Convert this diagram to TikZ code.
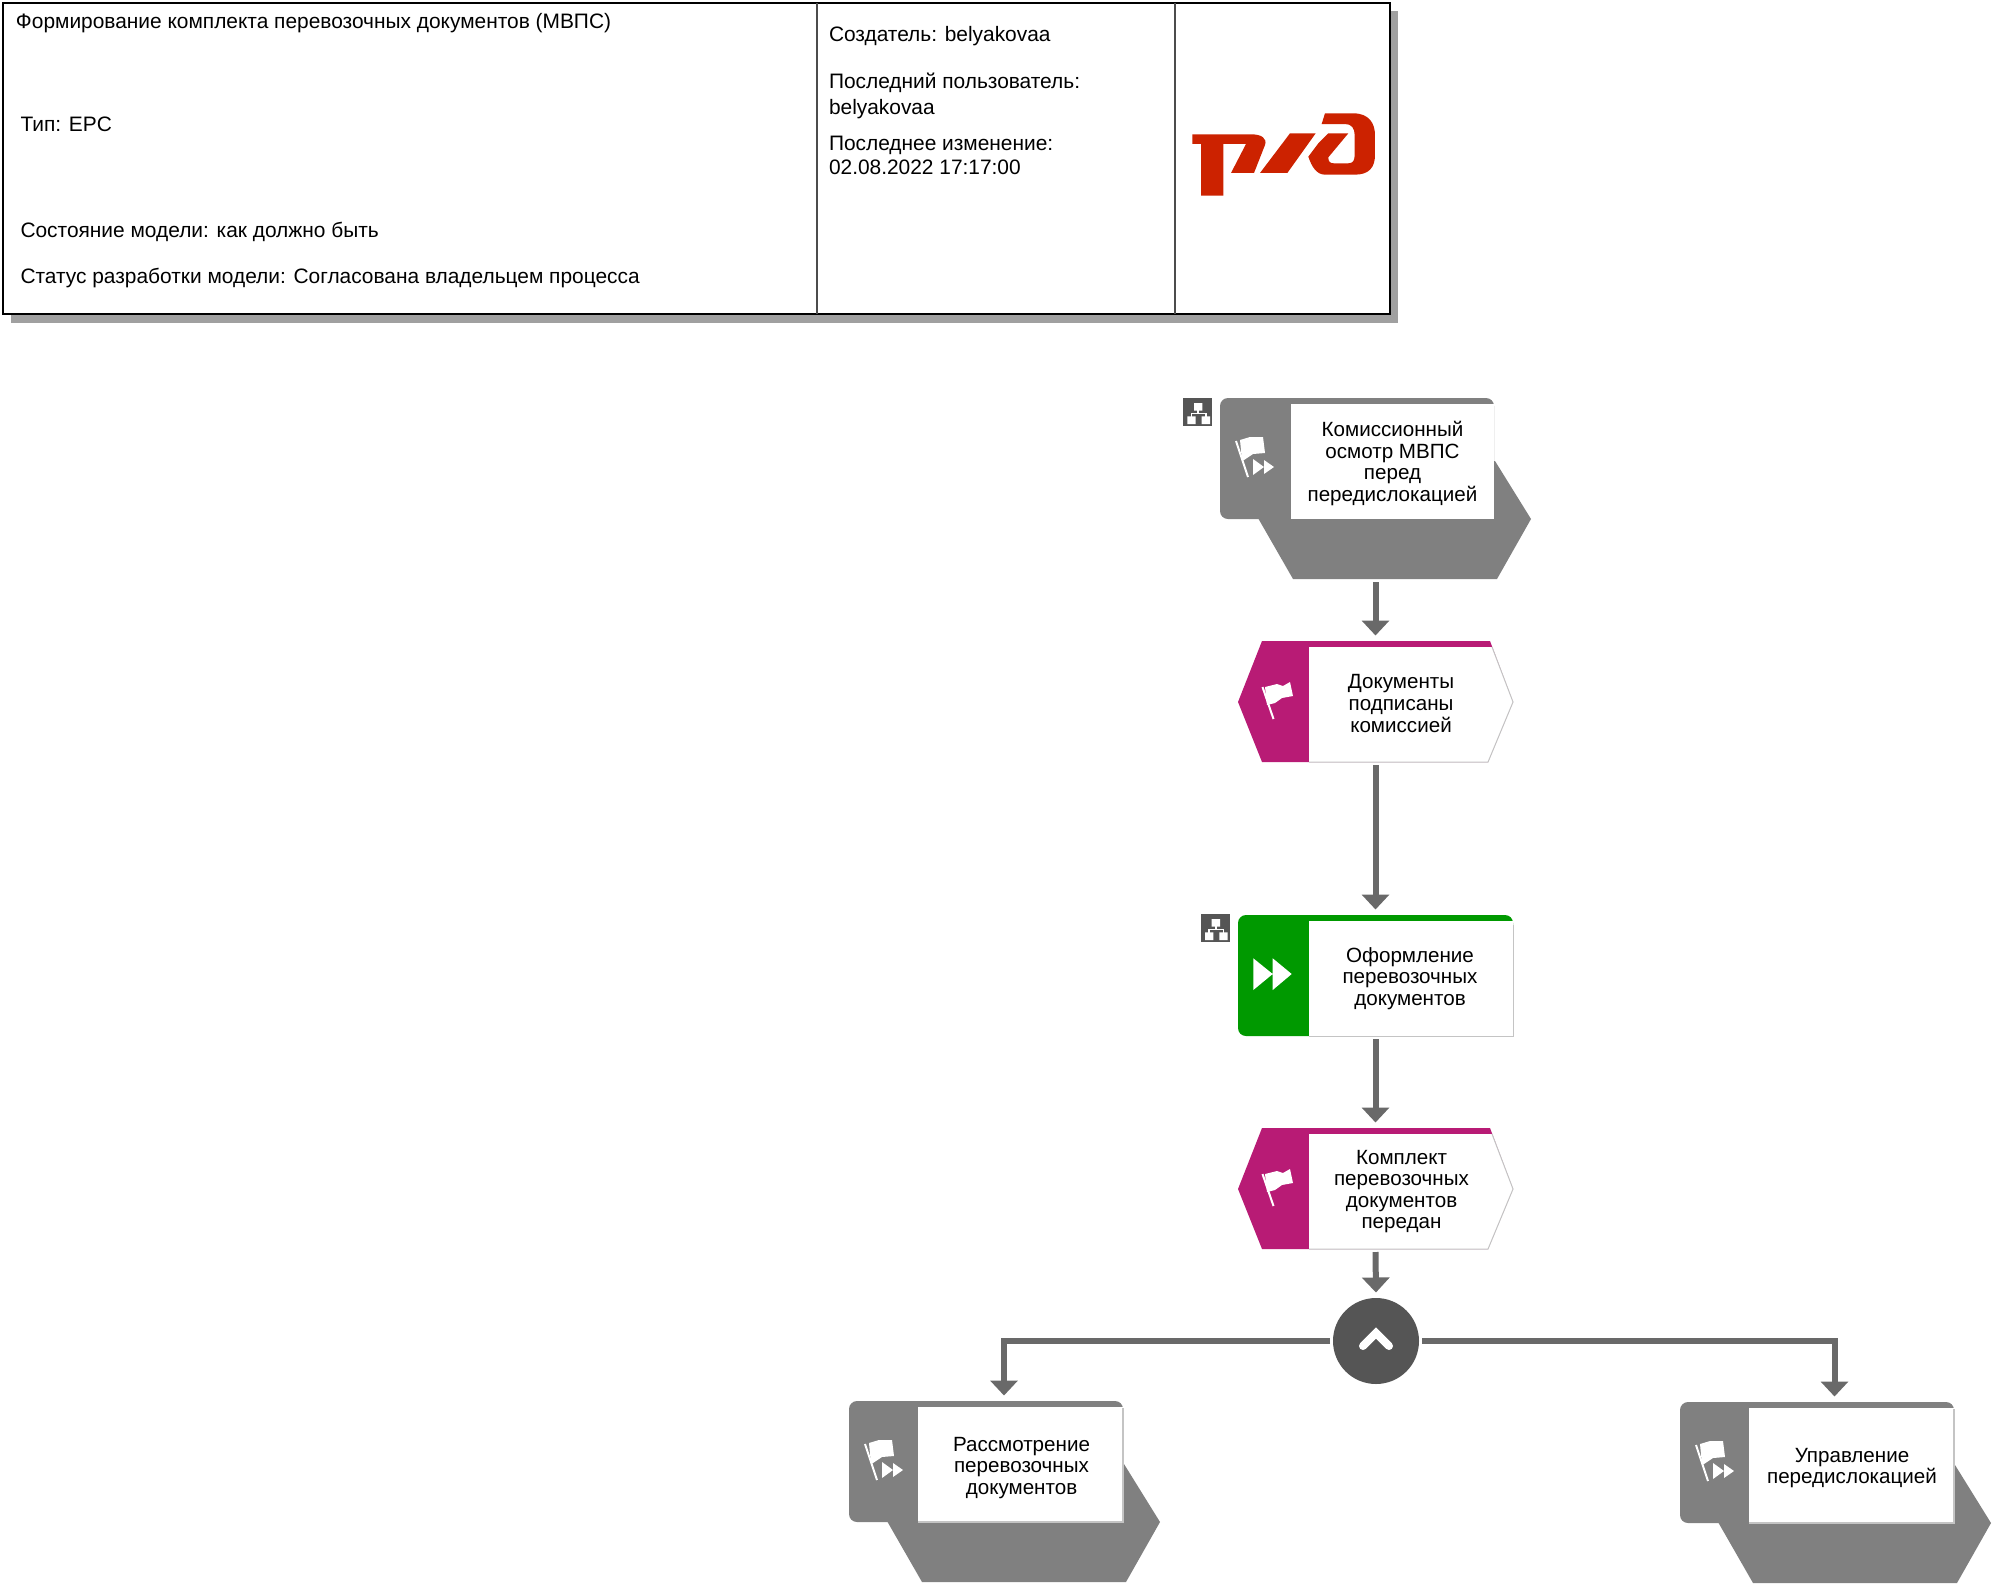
\documentclass[tikz,border=0pt]{standalone}
\usepackage{fontspec}
\setmainfont{Liberation Sans}
\usetikzlibrary{arrows.meta}
\definecolor{procgray}{HTML}{808080}
\definecolor{evmag}{HTML}{B81B75}
\definecolor{fngreen}{HTML}{009900}
\definecolor{connc}{HTML}{696969}
\definecolor{shadowc}{HTML}{A0A0A0}
\definecolor{edgec}{HTML}{C4C4C4}
\definecolor{orgc}{HTML}{555555}
\definecolor{logoc}{HTML}{CC2200}
\tikzset{
  x=1pt,y=-1pt,
  anchorbox/.style={inner sep=0pt,outer sep=0pt,minimum width=#1},
  lbl/.style={align=center,inner sep=0pt,outer sep=0pt,font=\fontsize{20.6}{21.6}\selectfont,text=black},
  hdr/.style={anchor=base west,inner sep=0pt,outer sep=0pt,font=\fontsize{20.9}{22}\selectfont,text=black},
  conn/.style={draw=connc,line width=6pt,-{Triangle[length=15pt,width=27pt]},shorten <=3pt,shorten >=5.5pt},
  flagicon/.pic={
    \fill[white] (20,42)--(30,39)--(43,39)--(45,55)--(33,56)--(24,62)--(22,63)--cycle;
    \draw[white,line width=2pt] (16,43)--(28,79);
    \fill[white] (33,61)--(33,77)--(44,69)--cycle (44,62)--(44,76)--(54,69)--cycle;
  },
  procshape/.pic={
    \fill[procgray] (38,120)--(73,181)--(277,181)--(311,121)--(275,63)--cycle;
    \fill[procgray,rounded corners=8pt] (0,0) rectangle (274,121);
  },
  evshape/.pic={
    \fill[evmag] (0,61)--(24,0)--(252,0)--(275,61)--(250,121)--(24,121)--cycle;
    \fill[white] (71,6)--(254,6)--(275,61)--(250,121)--(71,121)--cycle;
    \draw[edgec,line width=1pt] (254,6)--(275,61)--(250,121)--(71,121);
    \fill[white] (27,46)--(39,43)--(45,45)--(52,41)--(55,55)--(44,57)--(37,62)--(29,64)--cycle;
    \draw[white,line width=2pt] (24.5,46)--(35.5,78);
  },
  orgicon/.pic={
    \fill[orgc] (0,0) rectangle (28.5,28);
    \fill[white] (10.7,5) rectangle (19,12.7) (4,18.3) rectangle (12.3,26) (18.3,18.3) rectangle (26.7,26);
    \draw[white,line width=1.6pt] (14.8,12)--(14.8,15.5) (8,19)--(8,15.5)--(22.5,15.5)--(22.5,19);
  },
}
\begin{document}
\begin{tikzpicture}
\useasboundingbox (0,0) rectangle (1992,1585);
\fill[white] (0,0) rectangle (1992,1585);
% header
\fill[shadowc] (11,11) rectangle (1398,323);
\fill[white] (3,3) rectangle (1390,314);
\draw[black,line width=2pt] (3,3) rectangle (1390,314);
\draw[black!70,line width=1.4pt] (817,3)--(817,314) (1175,3)--(1175,314);
\node[hdr] (h1) at (16,28) {Формирование комплекта перевозочных документов (МВПС)};
\node[hdr] (h2) at (20.5,131) {Тип: EPC};
\node[hdr] (h3) at (20.5,237) {Состояние модели: как должно быть};
\node[hdr] (h4) at (20.5,283) {Статус разработки модели: Согласована владельцем процесса};
\node[hdr] (h5) at (829,41) {Создатель: belyakovaa};
\node[hdr] (h6) at (829,88) {Последний пользователь:};
\node[hdr] (h7) at (829,114) {belyakovaa};
\node[hdr] (h8) at (829,150) {Последнее изменение:};
\node[hdr] (h9) at (829,174) {02.08.2022 17:17:00};
% logo
\begin{scope}[shift={(1180,100)},x=0.3333pt,y=-0.3333pt]
\fill[logoc] (37,103)--(215,103) .. controls (245,103) and (262,116) .. (255,135)--(222,219)--(153,219)--(198,132)--(130,132)--(130,287)--(63,287)--(63,132)--(37,132)--cycle;
\fill[logoc] (330,100)--(407,100)--(322,219)--(240,219)--cycle;
\fill[logoc] (435,40)--(520,40) .. controls (567,40) and (585,70) .. (585,105)--(585,165) .. controls (585,202) and (567,224) .. (525,224)--(435,224) .. controls (410,224) and (395,200) .. (385,170)--(415,130)--(445,100)--(505,100)--(445,172) .. controls (445,185) and (450,190) .. (462,190)--(505,190) .. controls (520,190) and (524,180) .. (524,165)--(524,105) .. controls (524,85) and (515,72) .. (495,72)--(425,72)--cycle;
\end{scope}
% shape anchors
\node[anchorbox=311pt,minimum height=181pt] (f1) at (1375.5,488.5) {};
\node[anchorbox=275pt,minimum height=121pt] (e1) at (1375.5,701.5) {};
\node[anchorbox=275pt,minimum height=121pt] (f2) at (1375.5,975.5) {};
\node[anchorbox=275pt,minimum height=121pt] (e2) at (1375.5,1188.5) {};
\node[circle,fill=orgc,inner sep=0pt,outer sep=0pt,minimum size=86pt] (g) at (1376,1341) {};
\node[anchorbox=311pt,minimum height=182pt] (fl) at (1004,1492) {};
\node[anchorbox=311pt,minimum height=181pt] (fr) at (1834.5,1492.5) {};
% shapes
\pic at (1220,398) {procshape};
\fill[white] (1291,404) rectangle (1494,519);
\pic at (1220,398) {flagicon};
\pic at (1238,641) {evshape};
\fill[fngreen,rounded corners=8pt] (1238,915) rectangle (1513,1036);
\fill[white] (1309,921) rectangle (1513,1036);
\draw[edgec,line width=1pt] (1513,925)--(1513,1036)--(1309,1036);
\fill[white] (1253.3,958.3)--(1253.3,990)--(1272.7,974)--cycle (1272.7,958.3)--(1272.7,990)--(1291.7,974)--cycle;
\pic at (1238,1128) {evshape};
\pic at (849,1401) {procshape};
\fill[white] (918,1407) rectangle (1123,1522);
\draw[edgec,line width=2pt] (1122.5,1408)--(1122.5,1522)--(918,1522);
\pic at (849,1401) {flagicon};
\pic at (1680,1402) {procshape};
\fill[white] (1749,1408) rectangle (1954,1523);
\draw[edgec,line width=2pt] (1953.5,1409)--(1953.5,1523)--(1749,1523);
\pic at (1680,1402) {flagicon};
\pic at (1183.3,398) {orgicon};
\pic at (1201,914) {orgicon};
\draw[white,line width=8pt,line cap=round] (1363,1346)--(1376,1333)--(1389,1346);
% labels
\node[lbl] (t1) at (1392.5,463.5) {Комиссионный\\осмотр МВПС\\перед\\передислокацией};
\node[lbl] (t2) at (1401,703.5) {Документы\\подписаны\\комиссией};
\node[lbl] (t3) at (1410,978.5) {Оформление\\перевозочных\\документов};
\node[lbl] (t4) at (1401.5,1191.5) {Комплект\\перевозочных\\документов\\передан};
\node[lbl] (t5) at (1021.5,1468) {Рассмотрение\\перевозочных\\документов};
\node[lbl] (t6) at (1852,1468) {Управление\\передислокацией};
% connectors
\draw[conn] (f1.south) -- (e1.north);
\draw[conn] (e1.south) -- (f2.north);
\draw[conn] (f2.south) -- (e2.north);
\draw[conn] (e2.south) -- (g.north);
\draw[conn] (g.west) -| (fl.north);
\draw[conn] (g.east) -| (fr.north);
\end{tikzpicture}
\end{document}
